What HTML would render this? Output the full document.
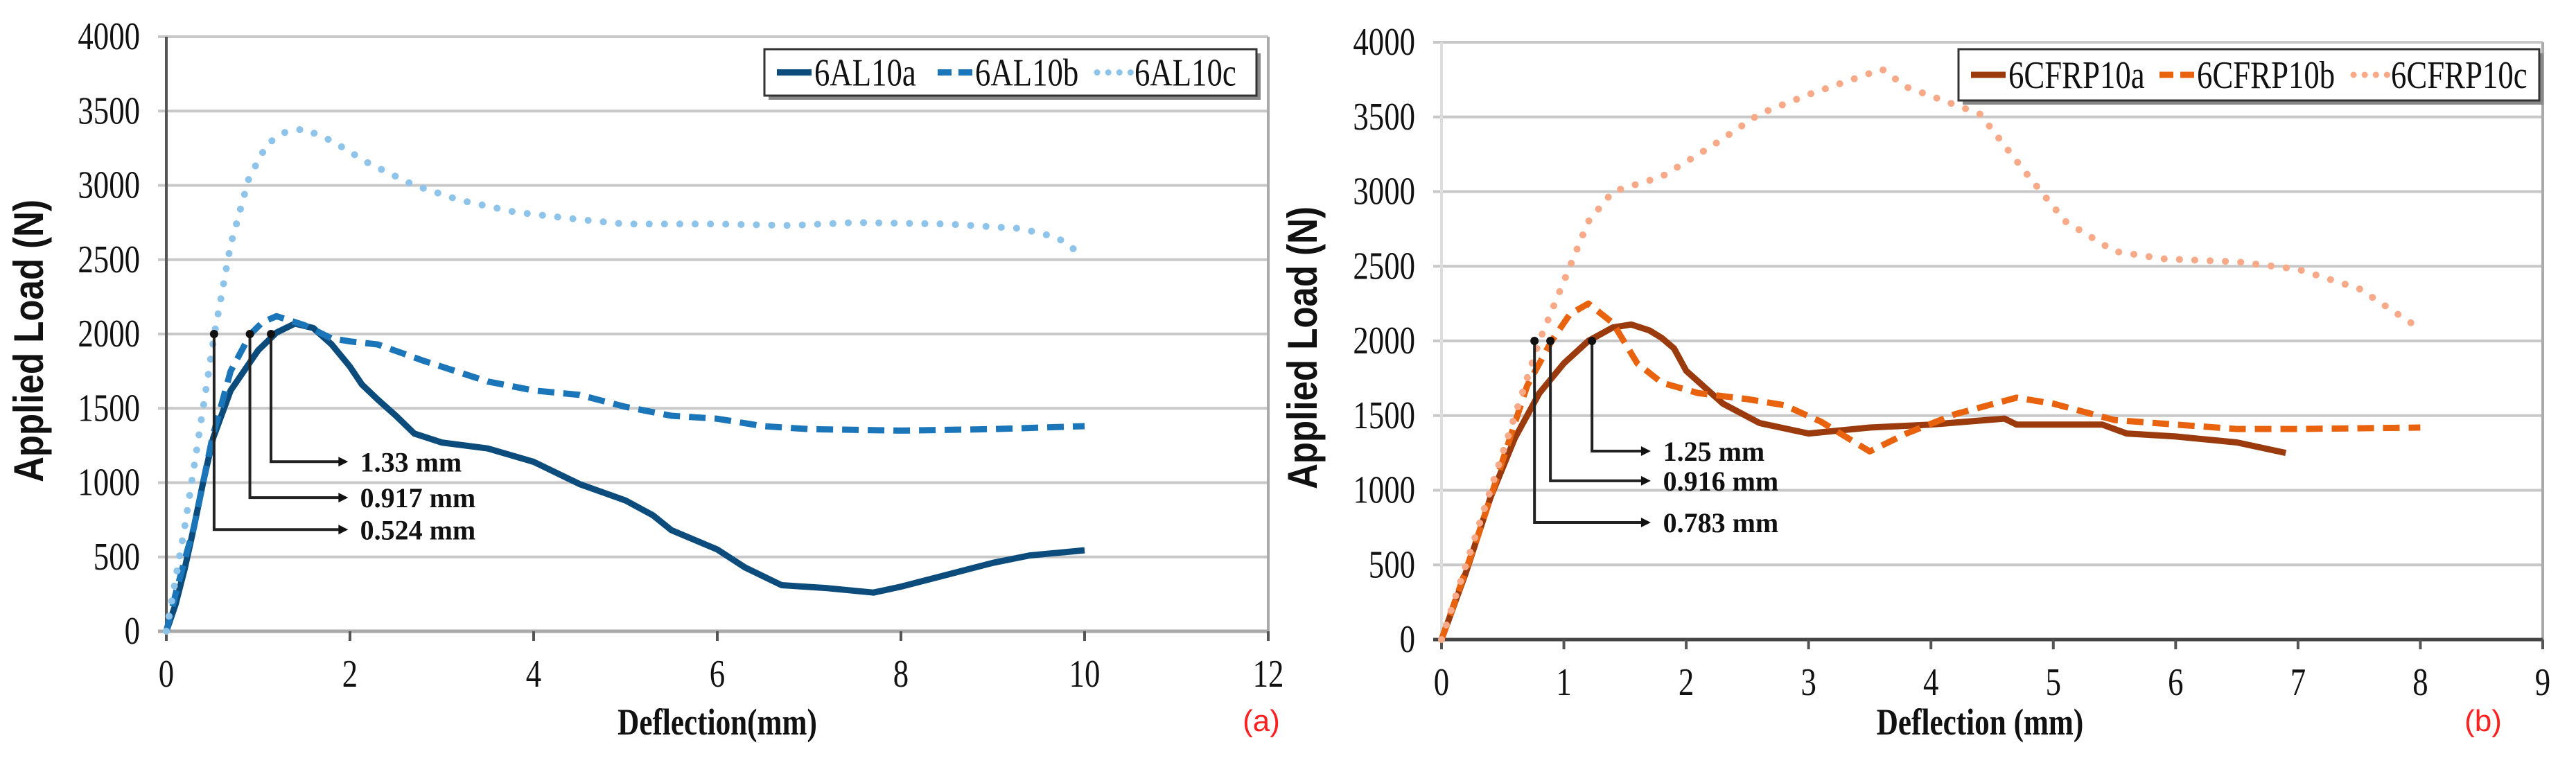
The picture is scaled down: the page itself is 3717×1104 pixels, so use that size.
<!DOCTYPE html>
<html><head><meta charset="utf-8"><style>
html,body{margin:0;padding:0;background:#fff;}
svg{display:block;}
</style></head><body>
<svg id="chart" width="3717" height="1104" viewBox="0 0 3717 1104" xmlns="http://www.w3.org/2000/svg" font-family="'Liberation Serif', serif"></svg>
<script>
// ---------- Panel (a) data ----------
const aXTicks = [0,2,4,6,8,10,12];
const aYTicks = [0,500,1000,1500,2000,2500,3000,3500,4000];
const a1X = [0,0.1,0.2,0.3,0.4,0.51,0.7,1.0,1.2,1.4,1.6,1.8,2.0,2.13,2.3,2.5,2.7,3.0,3.5,4.0,4.5,5.0,5.3,5.5,6.0,6.3,6.7,7.2,7.7,8.0,8.5,9.0,9.4,10.0];
const a1Y = [0,180,420,700,1000,1300,1620,1890,2010,2070,2040,1930,1780,1660,1560,1450,1330,1270,1230,1140,990,880,780,680,550,430,310,290,260,300,380,460,510,545];
const a2X = [0,0.1,0.2,0.3,0.5,0.7,0.917,1.05,1.2,1.5,1.8,2.0,2.3,2.8,3.5,4.0,4.5,5.0,5.5,6.0,6.5,7.0,8.0,9.0,10.0];
const a2Y = [0,250,480,700,1300,1750,2000,2080,2120,2060,1970,1950,1930,1820,1680,1620,1590,1510,1450,1430,1380,1360,1350,1360,1380];
const a3X = [0,0.1,0.2,0.3,0.4,0.524,0.7,0.9,1.1,1.3,1.5,1.8,2.2,2.7,3.2,3.8,4.5,5.0,6.0,6.8,7.5,8.5,9.3,9.7,10.0];
const a3Y = [0,350,700,1100,1500,2000,2600,3050,3280,3360,3380,3300,3150,3000,2900,2820,2770,2740,2740,2730,2750,2740,2710,2650,2520];
const aMarkX = [0.52,0.91,1.14];
const aMarkLevel = [684,899,1141];
const aMarkLabels = ["0.524 mm","0.917 mm","1.33 mm"];
const aArrowEnd = 1.98, aLabelX = 2.11;

// ---------- Panel (b) data ----------
const bXTicks = [0,1,2,3,4,5,6,7,8,9];
const bYTicks = [0,500,1000,1500,2000,2500,3000,3500,4000];
const b1X = [0,0.2,0.4,0.6,0.8,1.0,1.2,1.4,1.55,1.7,1.8,1.9,2.0,2.3,2.6,3.0,3.5,4.0,4.6,4.7,5.4,5.6,6.0,6.5,6.9];
const b1Y = [0,450,950,1350,1650,1850,2000,2090,2110,2070,2020,1950,1800,1580,1450,1380,1420,1440,1480,1440,1440,1380,1360,1320,1250];
const b2X = [0,0.3,0.5,0.7,0.9,1.05,1.2,1.4,1.6,1.8,2.1,2.5,2.8,3.1,3.5,3.8,4.2,4.7,5.0,5.5,6.0,6.5,7.0,8.0];
const b2Y = [0,700,1200,1700,2000,2180,2250,2120,1850,1720,1650,1610,1570,1460,1260,1380,1510,1620,1580,1470,1440,1410,1410,1420];
const b3X = [0,0.2,0.4,0.6,0.8,1.0,1.2,1.4,1.8,2.2,2.6,3.0,3.6,3.8,4.4,4.8,5.1,5.5,5.9,6.5,7.0,7.5,8.0];
const b3Y = [0,500,1000,1500,2000,2400,2800,3000,3100,3300,3520,3650,3820,3700,3520,3100,2800,2600,2550,2530,2480,2350,2080];
const bMarkX = [0.76,0.89,1.23];
const bMarkLevel = [784,1063,1262];
const bMarkLabels = ["0.783 mm","0.916 mm","1.25 mm"];
const bArrowEnd = 1.71, bLabelX = 1.81;

const NS = "http://www.w3.org/2000/svg";
const svg = document.getElementById('chart');
function mk(tag, attrs, parent){
  const e = document.createElementNS(NS, tag);
  for (const k in attrs) e.setAttribute(k, attrs[k]);
  (parent||svg).appendChild(e);
  return e;
}
function ctext(x, y, size, anchor, parent){
  return mk('text',{x:0,y:0,'font-size':size,'text-anchor':anchor,fill:'#111',transform:`translate(${x},${y}) scale(0.8,1)`},parent);
}
function path(xs, ys, sx, sy){
  return xs.map((x,i)=>(i?'L':'M')+sx(x).toFixed(1)+','+sy(ys[i]).toFixed(1)).join(' ');
}

function panel(cfg){
  const g = mk('g', {});
  
  
  const sx = v => cfg.x0 + (v - 0) / cfg.xMax * (cfg.x1 - cfg.x0);
  const sy = v => cfg.y0 - v / 4000 * (cfg.y0 - cfg.y1);
  cfg.yTicks.forEach(t=>{
    if (t!==0) {
      const l = mk('line',{x1:sx(0)-12,x2:sx(cfg.xMax),y1:sy(t),y2:sy(t),stroke:'#c8c8c8','stroke-width':4},g);
      
      
    }
    const tl = ctext(sx(0)-38, sy(t)+18, 56, 'end', g);
    
    
    tl.textContent = t;
  });
  const ya = mk('line',{x1:sx(0),x2:sx(0),y1:sy(4000),y2:sy(0)+14,stroke:cfg.yAxisColor,'stroke-width':4},g);
  
  
  const rb = mk('line',{x1:sx(cfg.xMax),x2:sx(cfg.xMax),y1:sy(4000),y2:sy(0)+14,stroke:'#aaa','stroke-width':4},g);
  
  
  const xa = mk('line',{x1:sx(0)-12,x2:sx(cfg.xMax),y1:sy(0),y2:sy(0),stroke:cfg.xAxisColor,'stroke-width':5},g);
  
  
  cfg.xTicks.forEach(t=>{
    const tk = mk('line',{x1:sx(t),x2:sx(t),y1:sy(0),y2:sy(0)+14,stroke:'#555','stroke-width':4},g);
    
    
    const tl = ctext(sx(t), sy(0)+80, 56, 'middle', g);
    
    
    tl.textContent = t;
  });
  cfg.series.forEach(s=>{
    const p = mk('path',{d:path(s.x,s.y,sx,sy),fill:'none',stroke:s.color,'stroke-width':9,'stroke-linejoin':'round','stroke-linecap':s.dash==='dot'?'round':'butt'},g);
    if (s.dash==='dash') p.setAttribute('stroke-dasharray','24 13');
    if (s.dash==='dot') { p.setAttribute('stroke-dasharray','0.1 22'); p.setAttribute('stroke-width',10); }
    
    
  });
  cfg.markX.forEach((mx,i)=>{
    const lvl = cfg.markLevel[i];
    const a = mk('path',{d:`M${sx(mx)},${sy(2000)} L${sx(mx)},${sy(lvl)} L${sx(cfg.arrowEnd)-12},${sy(lvl)}`,fill:'none',stroke:'#222','stroke-width':4},g);
    
    
    const head = mk('path',{d:`M${sx(cfg.arrowEnd)},${sy(lvl)} l-14,-7 l0,14 z`,fill:'#111'},g);
    
    
    const dot = mk('circle',{cx:sx(mx),cy:sy(2000),r:6,fill:'#111'},g);
    
    
    const lb = mk('text',{x:sx(cfg.labelX),y:sy(lvl)+14,'font-size':40,'font-weight':'bold',fill:'#111'},g);
    
    
    lb.textContent = cfg.markLabels[i];
  });
  const L = cfg.legend;
  const lb0 = mk('rect',{x:L.x+6,y:L.y+6,width:L.w,height:L.h,fill:'#888'},g);
  
  
  const lb = mk('rect',{x:L.x,y:L.y,width:L.w,height:L.h,fill:'#fff',stroke:'#333','stroke-width':3},g);
  
  
  cfg.series.forEach((s,i)=>{
    const ex = L.x + L.off[i];
    const ln = mk('line',{x1:ex,x2:ex+50,y1:L.y+L.h/2,y2:L.y+L.h/2,stroke:s.color,'stroke-width':9,'stroke-linecap':s.dash==='dot'?'round':'butt'},g);
    if (s.dash==='dash') ln.setAttribute('stroke-dasharray','20 10');
    if (s.dash==='dot') ln.setAttribute('stroke-dasharray','0.1 16');
    
    
    const tx = ctext(ex+54, L.y+L.h/2+19, 56, 'start', g);
    
    
    tx.textContent = s.label;
  });
  const yt = mk('text',{x:0,y:0,'font-size':60,'font-weight':'bold','text-anchor':'middle',fill:'#111','font-family':"'Liberation Sans', sans-serif",transform:`translate(${cfg.yTitleX},${(sy(0)+sy(4000))/2+10}) rotate(-90) scale(0.85,1)`},g);
  
  
  yt.textContent = 'Applied Load (N)';
  const xt = mk('text',{x:0,y:0,'font-size':54,'font-weight':'bold','text-anchor':'middle',fill:'#111',transform:`translate(${cfg.xTitleX},1060) scale(0.8,1)`},g);
  
  
  xt.textContent = cfg.xTitle;
  const pl = mk('text',{x:cfg.tagX,y:1055,'font-size':44,'text-anchor':'middle',fill:'#ff2020','font-family':"'Liberation Sans', sans-serif"},g);
  
  
  pl.textContent = cfg.tag;
}

panel({name:'panel-a', x0:240, x1:1830, xMax:12, y0:911, y1:53, xTicks:aXTicks, yTicks:aYTicks,
  yAxisColor:'#555', xAxisColor:'#aaa',
  series:[
    {name:'series-6AL10a',label:'6AL10a',x:a1X,y:a1Y,color:'#0b4c7c',dash:'solid'},
    {name:'series-6AL10b',label:'6AL10b',x:a2X,y:a2Y,color:'#1b75b9',dash:'dash'},
    {name:'series-6AL10c',label:'6AL10c',x:a3X,y:a3Y,color:'#8ec4ea',dash:'dot'}],
  markX:aMarkX, markLevel:aMarkLevel, markLabels:aMarkLabels, arrowEnd:aArrowEnd, labelX:aLabelX,
  legend:{x:1103,y:71,w:710,h:67,off:[18,250,480]},
  yTitleX:62, xTitleX:1035, xTitle:'Deflection(mm)', tagX:1820, tag:'(a)'});

panel({name:'panel-b', x0:2080, x1:3669, xMax:9, y0:923, y1:61, xTicks:bXTicks, yTicks:bYTicks,
  yAxisColor:'#ddd', xAxisColor:'#444',
  series:[
    {name:'series-6CFRP10a',label:'6CFRP10a',x:b1X,y:b1Y,color:'#9b3b0d',dash:'solid'},
    {name:'series-6CFRP10b',label:'6CFRP10b',x:b2X,y:b2Y,color:'#e9630f',dash:'dash'},
    {name:'series-6CFRP10c',label:'6CFRP10c',x:b3X,y:b3Y,color:'#f8aa88',dash:'dot'}],
  markX:bMarkX, markLevel:bMarkLevel, markLabels:bMarkLabels, arrowEnd:bArrowEnd, labelX:bLabelX,
  legend:{x:2826,y:71,w:838,h:74,off:[18,290,570]},
  yTitleX:1900, xTitleX:2857, xTitle:'Deflection (mm)', tagX:3583, tag:'(b)'});
</script>
</body></html>
